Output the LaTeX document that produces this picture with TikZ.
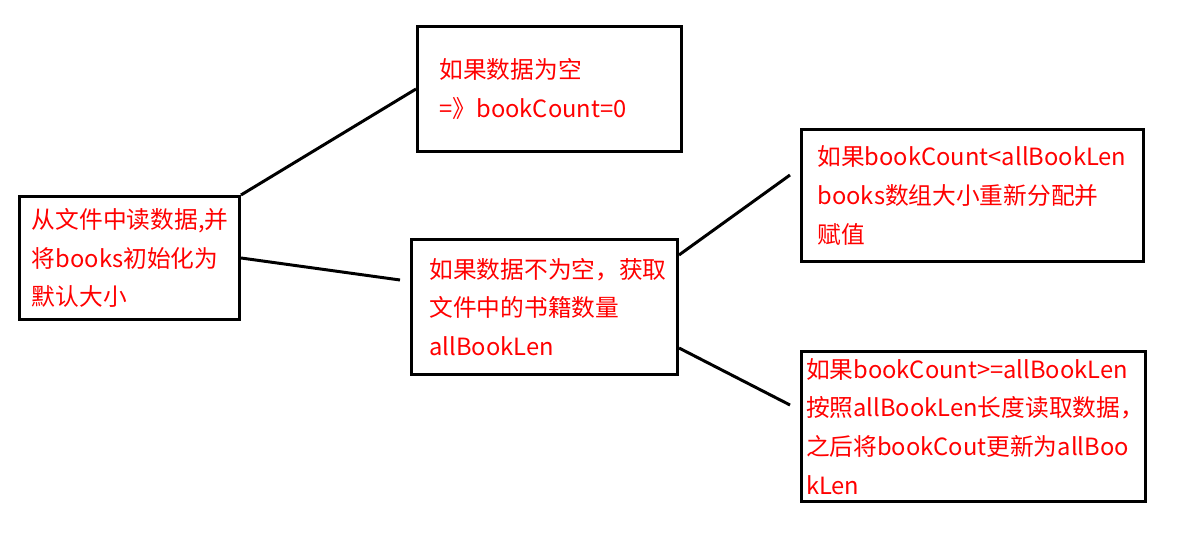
\documentclass[tikz,border=0pt]{standalone}
\usepackage{fontspec}
\setmainfont{Noto Sans CJK SC}
\usetikzlibrary{positioning}

\begin{document}
\begin{tikzpicture}[x=0.02cm, y=-0.02cm, line width=1.7pt]
    \tikzstyle{box_style} = [draw=black, rectangle, anchor=north west, align=left, text=red, font=\fontsize{13.5}{22}\selectfont, inner ysep=0pt]
    \tikzstyle{edge_style} = [draw=black, line width=1.7pt]
    \useasboundingbox (0,0) rectangle (1195,536);

    \node[box_style, minimum width=220*0.02cm, minimum height=123*0.02cm, text width=195*0.02cm, inner xsep=5pt] (read) at (18,195) {从文件中读数据,并\\将books初始化为\\默认大小};
    \node[box_style, minimum width=264*0.02cm, minimum height=125*0.02cm, text width=220*0.02cm, inner xsep=0.4cm] (empty) at (416,25) {如果数据为空\\=》bookCount=0};
    \node[box_style, minimum width=266*0.02cm, minimum height=135*0.02cm, text width=230*0.02cm, inner xsep=0.32cm] (notempty) at (410,238) {如果数据不为空，获取\\文件中的书籍数量\\allBookLen};
    \node[box_style, minimum width=342*0.02cm, minimum height=132*0.02cm, text width=310*0.02cm, inner xsep=0.26cm] (less) at (800,128) {如果bookCount<allBookLen\\books数组大小重新分配并\\赋值};
    \node[box_style, minimum width=344*0.02cm, minimum height=150*0.02cm, text width=335*0.02cm, inner xsep=0.06cm] (more) at (800,350) {如果bookCount>=allBookLen\\按照allBookLen长度读取数据，\\之后将bookCout更新为allBoo\\kLen};

    \coordinate (c1) at (400,280);
    \coordinate (c2) at (790,175);
    \coordinate (c3) at (790,405);

    \draw[edge_style] (read.north east) -- (empty.west);
    \draw[edge_style] (read.east) -- (c1);
    \draw[edge_style] ([yshift=-0.34cm]notempty.north east) -- (c2);
    \draw[edge_style] ([yshift=0.56cm]notempty.south east) -- (c3);
\end{tikzpicture}
\end{document}
